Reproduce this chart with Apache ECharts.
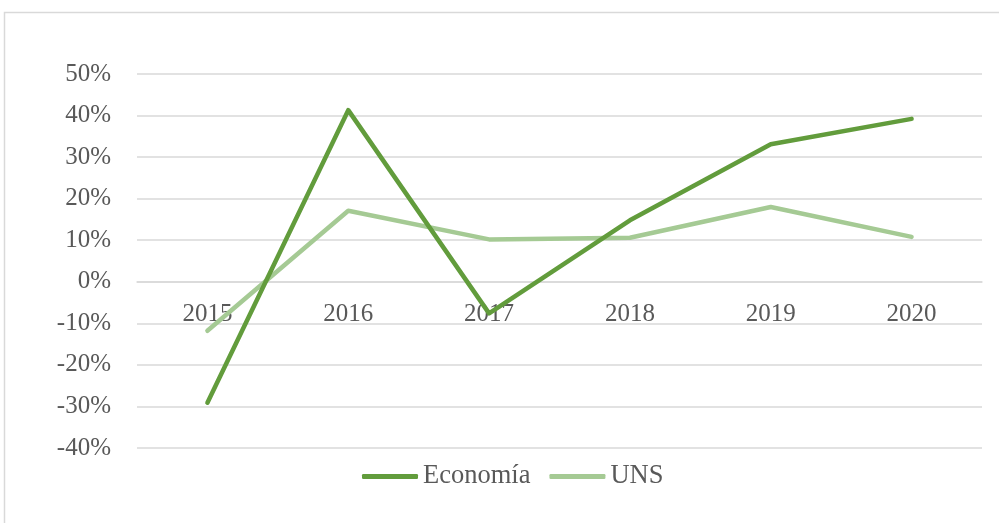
<!DOCTYPE html>
<html>
<head>
<meta charset="utf-8">
<script src="https://cdn.jsdelivr.net/npm/echarts@6/dist/echarts.min.js"></script>
<style>
  html, body { margin: 0; padding: 0; background: #fff; }
  #chart { width: 999px; height: 523px; }
</style>
</head>
<body>
<div id="chart"></div>
<script>
const years = ["2015", "2016", "2017", "2018", "2019", "2020"];
const economia = [-29.1, 41.3, -7.6, 14.8, 33.1, 39.2];
const uns = [-11.8, 17.1, 10.2, 10.6, 18.0, 10.8];

const textColor = "#595959";
const gridColor = "#d9d9d9";
const font = "'Liberation Serif', 'Times New Roman', serif";

const chart = echarts.init(document.getElementById("chart"));

const option = {
  backgroundColor: "#fff",
  animation: false,
  // marco del gráfico
  graphic: [{
    type: "rect",
    shape: { x: 4.5, y: 12.5, width: 1010, height: 530 },
    style: { fill: "none", stroke: gridColor, lineWidth: 1.5 },
    silent: true,
  }],
  grid: {
    left: 137,
    right: 17,
    top: 74,
    bottom: 75,
  },
  legend: {
    bottom: 28,
    left: 357,
    icon: "roundRect",
    itemWidth: 56,
    itemHeight: 5,
    itemGap: 19,
    textStyle: { color: textColor, fontSize: 26.5, fontFamily: font },
    data: ["Economía", "UNS"],
  },
  xAxis: {
    type: "category",
    data: years,
    boundaryGap: true,
    // eje en 0%: se sube desde el borde inferior del grid
    offset: -166,
    axisLine: { show: true, onZero: false, lineStyle: { color: gridColor, width: 1.5 } },
    axisTick: { show: false },
    axisLabel: {
      color: textColor,
      fontSize: 25,
      fontFamily: font,
      margin: 20,
    },
    splitLine: { show: false },
  },
  yAxis: {
    type: "value",
    min: -40,
    max: 50,
    interval: 10,
    axisLine: { show: false },
    axisTick: { show: false },
    axisLabel: {
      color: textColor,
      fontSize: 25,
      fontFamily: font,
      margin: 26,
      formatter: "{value}%",
    },
    splitLine: { lineStyle: { color: gridColor, width: 1.5 } },
  },
  series: [
    {
      name: "Economía",
      type: "line",
      data: economia,
      symbol: "none",
      z: 3,
      color: "#629c3c",
      lineStyle: { width: 4.5, cap: "round", join: "round" },
    },
    {
      name: "UNS",
      type: "line",
      data: uns,
      symbol: "none",
      z: 2,
      color: "#a5ca94",
      lineStyle: { width: 4.5, cap: "round", join: "round" },
    },
  ],
};

chart.setOption(option);
</script>
</body>
</html>
